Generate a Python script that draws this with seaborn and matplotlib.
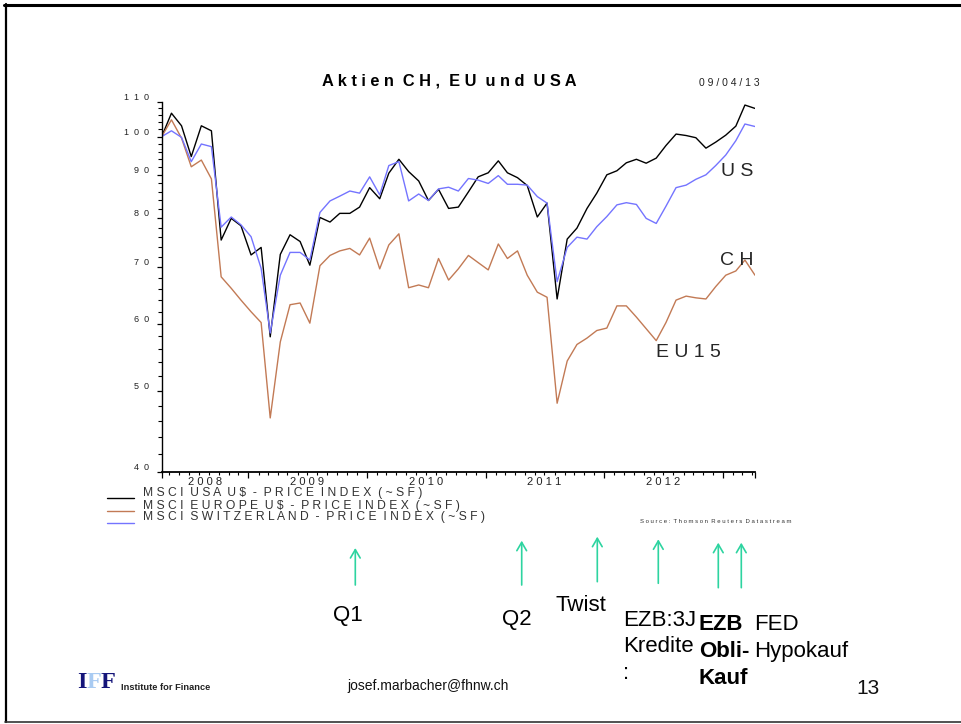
import numpy as np
import pandas as pd
import matplotlib
matplotlib.use("Agg")
import matplotlib.pyplot as plt
import matplotlib.dates as mdates
from matplotlib.patches import FancyArrowPatch
from matplotlib.ticker import FixedLocator, NullFormatter
from matplotlib.lines import Line2D
import seaborn as sns

# ---- data: MSCI price indices in CHF, rebased to 100, sampled monthly ----
dates = pd.date_range("2008-04-09", periods=61, freq=pd.DateOffset(months=1))

usa = [100.0, 106.6, 103.0, 94.7, 103.0, 101.6, 75.4, 80.0, 78.4, 72.4,
       73.9, 57.9, 72.5, 76.5, 75.1, 70.4, 80.2, 79.2, 81.1, 81.1,
       82.5, 87.0, 84.4, 90.5, 94.0, 90.9, 88.6, 84.0, 86.6, 82.2,
       82.5, 86.0, 89.6, 90.6, 93.6, 90.6, 89.4, 87.5, 80.3, 83.4,
       64.2, 75.6, 77.9, 82.2, 85.7, 90.1, 91.1, 93.1, 94.0, 93.0,
       94.3, 97.6, 100.7, 100.3, 99.7, 96.9, 98.5, 100.4, 102.9, 109.0, 108.0]

europe = [100.0, 104.7, 99.6, 92.1, 93.8, 89.1, 68.2, 66.1, 64.0, 62.0,
          60.2, 46.4, 57.1, 63.2, 63.5, 60.1, 70.3, 72.3, 73.2, 73.7,
          72.4, 75.8, 69.7, 74.4, 76.7, 66.2, 66.7, 66.2, 71.7, 67.6,
          69.7, 72.3, 70.9, 69.5, 74.6, 71.7, 73.2, 68.5, 65.4, 64.5,
          48.3, 54.2, 56.7, 57.7, 58.9, 59.3, 63.0, 63.0, 61.1, 59.2,
          57.3, 60.2, 64.0, 64.7, 64.4, 64.2, 66.4, 68.5, 69.3, 71.4, 68.5]

switzerland = [100.0, 101.6, 99.8, 93.4, 98.0, 97.3, 78.1, 80.3, 78.6, 76.1,
               69.8, 58.5, 68.5, 72.9, 72.9, 71.4, 81.3, 83.9, 85.0, 86.2,
               85.7, 89.6, 85.3, 92.4, 93.4, 83.9, 85.5, 84.0, 86.7, 87.1,
               86.2, 89.2, 88.8, 88.0, 89.9, 87.8, 87.8, 87.6, 84.9, 83.4,
               67.3, 73.9, 76.0, 75.6, 78.2, 80.4, 83.0, 83.5, 83.1, 80.0,
               78.9, 82.7, 87.0, 87.6, 89.0, 90.1, 92.4, 95.1, 98.9, 103.5, 102.8]

series_keys = ["US", "EU", "CH"]
series_names = ["M S C I  U S A  U $  -  P R I C E  I N D E X  ( ~ S F )",
                "M S C I  E U R O P E  U $  -  P R I C E  I N D E X  ( ~ S F )",
                "M S C I  S W I T Z E R L A N D  -  P R I C E  I N D E X  ( ~ S F )"]
series_colors = ["#000000", "#C27A55", "#7474FF"]

y_ticks = [40, 50, 60, 70, 80, 90, 100, 110]
y_tick_labels = ["4  0", "5  0", "6  0", "7  0", "8  0", "9  0", "1  0  0", "1  1  0"]
year_labels = ["2 0 0 8", "2 0 0 9", "2 0 1 0", "2 0 1 1", "2 0 1 2"]

events = ["Q1", "Q2", "Twist", "EZB:3J\nKredite\n:", "EZB\nObli-\nKauf", "FED\nHypokauf"]
events_bold = [False, False, False, False, True, False]

# ---- figure setup ----
sns.set_style("white")
plt.rcParams["font.family"] = ["Liberation Sans", "DejaVu Sans"]

W, H = 961, 724
fig = plt.figure(figsize=(W / 100, H / 100), dpi=100)
fig.patch.set_facecolor("white")


def fx(x):
    return x / W


def fy(y):
    return 1 - y / H


ax_l, ax_r, ax_t, ax_b = 161.7, 755.0, 101.7, 472.3
ax = fig.add_axes([fx(ax_l), fy(ax_b), fx(ax_r - ax_l), (ax_b - ax_t) / H])

df = pd.concat([
    pd.DataFrame({"date": dates, "value": vals, "series": key})
    for key, vals in zip(series_keys, [usa, europe, switzerland])
], ignore_index=True)

sns.lineplot(data=df, x="date", y="value", hue="series", hue_order=series_keys,
             palette=dict(zip(series_keys, series_colors)), linewidth=1.0,
             estimator=None, legend=False, ax=ax)

ax.set_yscale("log")
ax.set_ylim(40, 110)
ax.set_xlim(dates[0], dates[-1])
ax.set_xlabel("")
ax.set_ylabel("")

for side in ["top", "right"]:
    ax.spines[side].set_visible(False)
ax.spines["left"].set_linewidth(1.0)
ax.spines["bottom"].set_linewidth(1.3)
ax.spines["left"].set_color("black")
ax.spines["bottom"].set_color("black")

# y axis: major ticks every 10, minor every 2
ax.yaxis.set_major_locator(FixedLocator(y_ticks))
ax.set_yticklabels(y_tick_labels)
ax.yaxis.set_minor_locator(FixedLocator([v for v in range(42, 110, 2) if v % 10]))
ax.yaxis.set_minor_formatter(NullFormatter())
ax.tick_params(axis="y", which="major", left=True, direction="out", length=3.6, width=0.9,
               color="black", pad=5.3, labelsize=6.5, labelcolor="#222222")
ax.tick_params(axis="y", which="minor", left=True, direction="out", length=2.6, width=0.8,
               color="black")
for lab in ax.get_yticklabels():
    lab.set_va("bottom")

# x axis: year boundaries (and axis ends) as long ticks, months as short ticks
year_starts = [pd.Timestamp(f"{y}-01-01") for y in range(2009, 2014)]
major_x = [dates[0]] + year_starts + [dates[-1]]
ax.xaxis.set_major_locator(FixedLocator(mdates.date2num(major_x)))
ax.xaxis.set_major_formatter(NullFormatter())
ax.xaxis.set_minor_locator(mdates.MonthLocator())
ax.xaxis.set_minor_formatter(NullFormatter())
ax.tick_params(axis="x", which="major", bottom=True, direction="out", length=4.5,
               width=0.9, color="black")
ax.tick_params(axis="x", which="minor", bottom=True, direction="out", length=2.3,
               width=0.8, color="black")

# year labels centred on the visible part of each year
first_mid = dates[0] + (year_starts[0] - dates[0]) / 2
year_pos = [first_mid] + [pd.Timestamp(f"{y}-07-01") for y in range(2009, 2013)]
for pos, lab in zip(year_pos, year_labels):
    ax.annotate(lab, xy=(mdates.date2num(pos), 0), xycoords=("data", "axes fraction"),
                xytext=(0, -9.4), textcoords="offset pixels", ha="center", va="center",
                fontsize=8, color="#222222", annotation_clip=False)

# ---- chart texts ----
fig.text(fx(449), fy(80.7), "A k t i e n  C H ,  E U  u n d  U S A", ha="center",
         va="center", fontsize=11.8, fontweight="bold", color="black")
fig.text(fx(760), fy(83.3), "0 9 / 0 4 / 1 3", ha="right", va="center",
         fontsize=7.5, color="#222222")

fig.text(fx(720.7), fy(171.7), "U S", ha="left", va="center", fontsize=14)
fig.text(fx(720.0), fy(260.0), "C H", ha="left", va="center", fontsize=14)
fig.text(fx(655.7), fy(352.7), "E U 1 5", ha="left", va="center", fontsize=14)

# legend block under the axis
legend_line_y = [497.7, 510.7, 522.7]
legend_text_y = [492.7, 506.0, 517.3]
for name, col, ly, ty in zip(series_names, series_colors, legend_line_y, legend_text_y):
    fig.add_artist(Line2D([fx(107), fx(134)], [fy(ly), fy(ly)], color=col, lw=1.0,
                          transform=fig.transFigure))
    fig.text(fx(143), fy(ty), name, ha="left", va="center", fontsize=8.7, color="#333333")

fig.text(fx(640), fy(521.5), "S o u r c e :  T h o m s o n  R e u t e r s  D a t a s t r e a m",
         ha="left", va="center", fontsize=4.3, color="#333333")

# ---- policy event arrows and labels ----
arrow_color = "#2DD4A0"
arrow_x = [355.3, 521.7, 597.3, 658.3, 718.3, 741.3]
arrow_tip = [548.0, 540.7, 536.7, 539.3, 542.7, 542.7]
arrow_base = [585.0, 585.0, 581.7, 583.3, 587.7, 587.7]
for x, tip, base in zip(arrow_x, arrow_tip, arrow_base):
    fig.add_artist(FancyArrowPatch(
        (fx(x), fy(base)), (fx(x), fy(tip)), transform=fig.transFigure,
        arrowstyle="->,head_length=0.6,head_width=0.35", mutation_scale=10,
        color=arrow_color, lw=1.2, shrinkA=0, shrinkB=0))

event_pos = [(332.7, 615.0), (501.7, 619.0), (555.0, 605.7),
             (622.7, 619.0), (699.0, 623.3), (754.3, 623.3)]
for (x, y), txt, bold in zip(event_pos, events, events_bold):
    weight = "bold" if bold else "normal"
    if "\n" in txt:
        fig.text(fx(x), fy(y - 9.5), txt, ha="left", va="top", fontsize=16,
                 fontweight=weight, color="black", linespacing=1.37)
    else:
        fig.text(fx(x), fy(y), txt, ha="left", va="center", fontsize=16,
                 fontweight=weight, color="black")

# ---- slide footer ----
serif = ["Liberation Serif", "DejaVu Serif"]
fig.text(fx(77), fy(683), "I", ha="left", va="center", fontsize=17.5, fontweight="bold",
         family=serif, color="#15157A")
fig.text(fx(86.7), fy(683), "F", ha="left", va="center", fontsize=17.5, fontweight="bold",
         family=serif, color="#A9CBF2")
fig.text(fx(100.5), fy(683), "F", ha="left", va="center", fontsize=17.5, fontweight="bold",
         family=serif, color="#15157A")
fig.text(fx(120.7), fy(687.7), "Institute for Finance", ha="left", va="center",
         fontsize=6.7, fontweight="bold", color="#222222")
fig.text(fx(428), fy(685.7), "josef.marbacher@fhnw.ch", ha="center", va="center",
         fontsize=10, color="#111111")
fig.text(fx(868), fy(688.5), "13", ha="center", va="center", fontsize=15, color="#111111")

# slide frame
fig.add_artist(Line2D([fx(4), 1], [fy(4.5), fy(4.5)], color="black", lw=2.2,
                      transform=fig.transFigure))
fig.add_artist(Line2D([fx(5.5), fx(5.5)], [fy(4), fy(721.5)], color="black", lw=1.6,
                      transform=fig.transFigure))
fig.add_artist(Line2D([fx(5), 1], [fy(721.5), fy(721.5)], color="#333333", lw=1.2,
                      transform=fig.transFigure))

fig.savefig("out.png", dpi=100, facecolor="white")
